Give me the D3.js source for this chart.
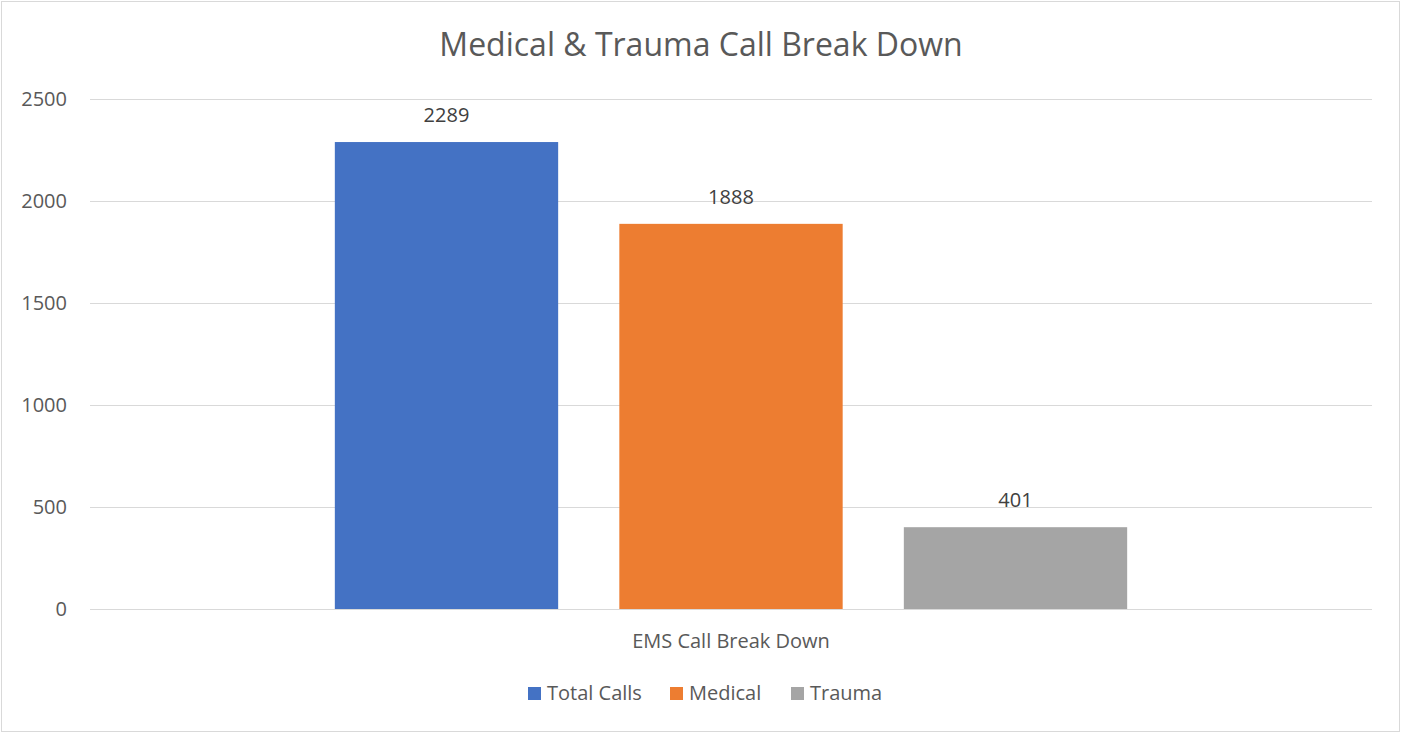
<!DOCTYPE html>
<html>
<head>
<meta charset="utf-8">
<script src="https://cdn.jsdelivr.net/npm/d3@7"></script>
<style>
  body { margin: 0; background: #fff; }
  text { font-family: "Open Sans", "Noto Sans", sans-serif; fill: #595959; }
</style>
</head>
<body>
<script>
var categories = ["EMS Call Break Down"];
var seriesNames = ["Total Calls", "Medical", "Trauma"];
var seriesValues = [2289, 1888, 401];
var seriesColors = ["#4472c4", "#ed7d31", "#a5a5a5"];
var yTicks = [0, 500, 1000, 1500, 2000, 2500];

var width = 1401, height = 733;
var svg = d3.select("body").append("svg")
  .attr("width", width)
  .attr("height", height);

// chart border
svg.append("rect")
  .attr("x", 1.5).attr("y", 1.5)
  .attr("width", width - 3).attr("height", height - 3)
  .attr("fill", "#fff")
  .attr("stroke", "#d9d9d9");

var plotLeft = 90, plotRight = 1372, plotTop = 99, plotBottom = 609;

var y = d3.scaleLinear().domain([0, 2500]).range([plotBottom, plotTop]);
var x0 = d3.scaleBand().domain(categories).range([plotLeft, plotRight]).paddingOuter(0.309);
var x1 = d3.scaleBand().domain(seriesNames).range([0, x0.bandwidth()]).paddingInner(0.215).paddingOuter(0);

// title
svg.append("text")
  .attr("x", 701).attr("y", 56)
  .attr("text-anchor", "middle")
  .style("font-size", "32px")
  .text("Medical & Trauma Call Break Down");

// gridlines
svg.append("g").selectAll("line").data(yTicks).enter()
  .append("line")
  .attr("x1", plotLeft).attr("x2", plotRight)
  .attr("y1", function(d){ return Math.round(y(d)) + 0.5; })
  .attr("y2", function(d){ return Math.round(y(d)) + 0.5; })
  .attr("stroke", "#d9d9d9")
  .attr("stroke-width", 1);

// y axis labels
var yAxis = d3.axisLeft(y).tickValues(yTicks).tickSize(0).tickPadding(0).tickFormat(d3.format("d"));
var ya = svg.append("g").attr("transform", "translate(67,0)").call(yAxis);
ya.select(".domain").remove();
ya.selectAll("text")
  .style("font-size", "20px")
  .style("font-family", '"Open Sans", sans-serif')
  .style("fill", "#595959");

// bars
var g = svg.append("g").attr("transform", "translate(" + x0(categories[0]) + ",0)");
g.selectAll("rect").data(seriesValues).enter()
  .append("rect")
  .attr("x", function(d, i){ return x1(seriesNames[i]); })
  .attr("width", x1.bandwidth())
  .attr("y", function(d){ return y(d); })
  .attr("height", function(d){ return y(0) - y(d); })
  .attr("fill", function(d, i){ return seriesColors[i]; });

g.selectAll(".lbl").data(seriesValues).enter()
  .append("text")
  .attr("class", "lbl")
  .attr("x", function(d, i){ return x1(seriesNames[i]) + x1.bandwidth() / 2; })
  .attr("y", function(d){ return y(d) - 20; })
  .attr("text-anchor", "middle")
  .style("font-size", "20px")
  .style("fill", "#404040")
  .text(function(d){ return d; });

// axis baseline
svg.append("line")
  .attr("x1", plotLeft).attr("x2", plotRight)
  .attr("y1", plotBottom + 0.5).attr("y2", plotBottom + 0.5)
  .attr("stroke", "#d9d9d9");

// category label
svg.append("text")
  .attr("x", x0(categories[0]) + x0.bandwidth() / 2)
  .attr("y", 648)
  .attr("text-anchor", "middle")
  .style("font-size", "20px")
  .text(categories[0]);

// legend
var legendX = [528, 670, 791];
var lg = svg.append("g");
seriesNames.forEach(function(name, i){
  lg.append("rect")
    .attr("x", legendX[i]).attr("y", 687)
    .attr("width", 13).attr("height", 13)
    .attr("fill", seriesColors[i]);
  lg.append("text")
    .attr("x", legendX[i] + 19).attr("y", 700)
    .style("font-size", "20px")
    .text(name);
});
</script>
</body>
</html>
